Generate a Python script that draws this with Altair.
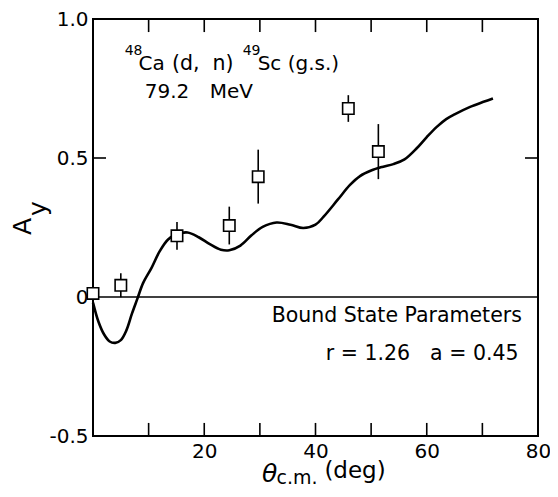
import altair as alt
import pandas as pd

# ---- data ----
curve_theta = [0, 1, 2, 3, 4, 5, 6, 7, 8, 9, 10.5, 12, 13.5, 15, 17, 19, 21, 23, 24.5,
               26.5, 28.5, 30.5, 33, 35.5, 37.8, 40, 41.5, 44, 46.2, 48, 50, 52, 54, 56,
               58.2, 60, 61.8, 63.5, 65, 67.8, 70.2, 71.9]
curve_ay = [-0.02, -0.09, -0.135, -0.16, -0.165, -0.155, -0.12, -0.06, -0.005, 0.05, 0.104,
            0.165, 0.207, 0.225, 0.232, 0.215, 0.19, 0.17, 0.168, 0.185, 0.222, 0.252, 0.268,
            0.26, 0.248, 0.26, 0.29, 0.35, 0.403, 0.435, 0.455, 0.468, 0.478, 0.495, 0.535,
            0.575, 0.612, 0.64, 0.657, 0.684, 0.702, 0.714]

data_theta = [0.0, 5.0, 15.1, 24.5, 29.7, 45.9, 51.3]
data_ay = [0.013, 0.042, 0.22, 0.257, 0.433, 0.678, 0.523]
data_err = [0.05, 0.043, 0.05, 0.068, 0.097, 0.048, 0.099]

x_tick_labels = [20, 40, 60, 80]
y_tick_labels = [-0.5, 0, 0.5, 1.0]
minor_x_ticks = [10, 20, 30, 40, 50, 60, 70]
side_y_ticks = [0.5]

FONT = "DejaVu Sans"
TICK_DY = 0.047
TICK_DX = 2.34
NB = "\u00a0"

curve_df = pd.DataFrame({"theta": curve_theta, "ay": curve_ay})
pts_df = pd.DataFrame({"theta": data_theta, "ay": data_ay, "err": data_err})
pts_df["lo"] = pts_df["ay"] - pts_df["err"]
pts_df["hi"] = pts_df["ay"] + pts_df["err"]

xs = alt.Scale(domain=[0, 80], nice=False, zero=False)
ys = alt.Scale(domain=[-0.5, 1.0], nice=False, zero=False)

x_axis = alt.Axis(values=x_tick_labels, ticks=False, domain=False, grid=False,
                  labelFont=FONT, labelFontSize=20, labelColor="black",
                  labelPadding=5, labelFlush=False, title=None)
y_axis = alt.Axis(values=y_tick_labels, ticks=False, domain=False, grid=False,
                  labelFont=FONT, labelFontSize=20, labelColor="black",
                  labelPadding=5, labelFlush=False, title=None,
                  labelExpr="datum.value == 0 ? '0' : (datum.value < 0 ? '-' + format(-datum.value, '.1f') : format(datum.value, '.1f'))")


def X(field):
    return alt.X(field, type="quantitative", scale=xs, axis=x_axis)


def Y(field):
    return alt.Y(field, type="quantitative", scale=ys, axis=y_axis)


curve = alt.Chart(curve_df).mark_line(color="black", strokeWidth=2.6, interpolate="catmull-rom").encode(
    x=X("theta"), y=Y("ay"))

zero_line = alt.Chart(pd.DataFrame({"x": [0], "x2": [80], "y": [0]})).mark_rule(
    color="black", strokeWidth=1.5).encode(x=X("x"), x2="x2:Q", y=Y("y"))

errbars = alt.Chart(pts_df).mark_rule(color="black", strokeWidth=1.6).encode(
    x=X("theta"), y=Y("lo"), y2="hi:Q")

squares = alt.Chart(pts_df).mark_point(shape="square", size=130, filled=True, fill="white",
                                       stroke="black", strokeWidth=1.6, opacity=1).encode(
    x=X("theta"), y=Y("ay"))

bt = pd.DataFrame({"x": minor_x_ticks})
bt["y"] = -0.5
bt["y2"] = -0.5 + TICK_DY
tt = pd.DataFrame({"x": minor_x_ticks})
tt["y"] = 1.0
tt["y2"] = 1.0 - TICK_DY
vtick_layer = alt.Chart(pd.concat([bt, tt])).mark_rule(color="black", strokeWidth=1.6).encode(
    x=X("x"), y=Y("y"), y2="y2:Q")

lt = pd.DataFrame({"y": side_y_ticks})
lt["x"] = 0
lt["x2"] = TICK_DX
rt = pd.DataFrame({"y": side_y_ticks})
rt["x"] = 80
rt["x2"] = 80 - TICK_DX
htick_layer = alt.Chart(pd.concat([lt, rt])).mark_rule(color="black", strokeWidth=1.6).encode(
    x=X("x"), x2="x2:Q", y=Y("y"))


def label(text, x, y, size, align="left", style="normal", angle=0, baseline="alphabetic"):
    return alt.Chart().mark_text(text=text, font=FONT, fontSize=size, align=align,
                                 baseline=baseline, color="black", fontStyle=style,
                                 angle=angle).encode(
        x=alt.XDatum(x, type="quantitative", scale=xs, axis=x_axis),
        y=alt.YDatum(y, type="quantitative", scale=ys, axis=y_axis))


texts = [
    label("48", 5.7, 0.871, 14),
    label("Ca", 8.2, 0.817, 20),
    label("(d," + NB + NB + "n)", 14.2, 0.817, 20.5),
    label("49", 26.9, 0.871, 14),
    label("Sc", 29.6, 0.817, 20),
    label("(g.s.)", 35.0, 0.817, 20),
    label("79.2", 9.3, 0.7165, 20),
    label("MeV", 21.0, 0.7165, 20),
    label("Bound State Parameters", 77.1, -0.09, 20.5, align="right"),
    label("r = 1.26", 57.0, -0.227, 20.5, align="right"),
    label("a = 0.45", 76.5, -0.227, 20.5, align="right"),
    label("θ", 30.4, -0.667, 25, style="italic"),
    label("c.m.", 33.0, -0.672, 19),
    label("(deg)", 41.6, -0.65, 23),
    label("A", -12.6, 0.254, 25, align="center", angle=270, baseline="middle"),
    label("y", -9.8, 0.318, 25, align="center", angle=270, baseline="middle"),
]

chart = alt.layer(zero_line, curve, vtick_layer, htick_layer, errbars, squares, *texts).properties(
    width=445, height=417,
    autosize=alt.AutoSizeParams(type="none"),
    padding={"left": 85, "top": 11, "right": 12, "bottom": 53},
).configure(background="white").configure_view(stroke="black", strokeWidth=2)

chart.save("out.html", embed_options={"renderer": "svg", "actions": False})
